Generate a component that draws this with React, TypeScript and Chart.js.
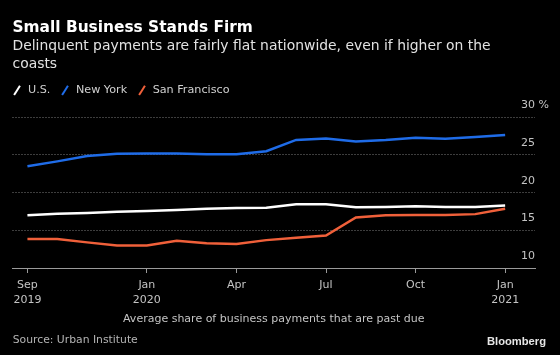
import React, { useEffect, useRef } from "react";
import { Chart, registerables } from "chart.js";

Chart.register(...registerables);

// ---- data ----
const months = [
  "2019-09", "2019-10", "2019-11", "2019-12", "2020-01", "2020-02", "2020-03", "2020-04",
  "2020-05", "2020-06", "2020-07", "2020-08", "2020-09", "2020-10", "2020-11", "2020-12", "2021-01",
];
const usValues = [17.0, 17.2, 17.3, 17.45, 17.55, 17.7, 17.85, 17.95, 18.0, 18.45, 18.45, 18.05, 18.1, 18.2, 18.1, 18.1, 18.3];
const nyValues = [23.5, 24.15, 24.85, 25.15, 25.2, 25.2, 25.1, 25.1, 25.5, 27.0, 27.2, 26.8, 27.0, 27.3, 27.15, 27.4, 27.65];
const sfValues = [13.85, 13.85, 13.4, 13.0, 13.0, 13.6, 13.3, 13.2, 13.7, 14.0, 14.3, 16.7, 17.0, 17.05, 17.05, 17.15, 17.85];

const seriesNames = ["U.S.", "New York", "San Francisco"];
const seriesColors = ["#ffffff", "#1f6ce8", "#f0603a"];

const xTickIndices = [0, 4, 7, 10, 13, 16];
const xTickLabels = [["Sep", "2019"], ["Jan", "2020"], ["Apr"], ["Jul"], ["Oct"], ["Jan", "2021"]];
const yTicks = [10, 15, 20, 25, 30];

const FONT = "'DejaVu Sans', sans-serif";

export default function App() {
  const ref = useRef<HTMLCanvasElement | null>(null);

  useEffect(() => {
    if (!ref.current) return;
    const toPts = (vals: number[]) => vals.map((y, i) => ({ x: i, y }));
    const allValues = [usValues, nyValues, sfValues];
    const chart = new Chart(ref.current, {
      type: "line",
      data: {
        labels: months,
        datasets: allValues.map((vals, k) => ({
          label: seriesNames[k],
          data: toPts(vals),
          borderColor: seriesColors[k],
          backgroundColor: seriesColors[k],
          borderWidth: 2.5,
          pointRadius: 0,
          tension: 0,
        })),
      },
      options: {
        responsive: false,
        animation: false,
        events: [],
        layout: { padding: { left: 12.5, right: 0, top: 117.3, bottom: 29 } },
        plugins: {
          legend: { display: false },
          tooltip: { enabled: false },
          title: { display: false },
        },
        scales: {
          x: {
            type: "linear",
            min: -0.5,
            max: 17,
            afterBuildTicks: (scale: any) => {
              scale.ticks = xTickIndices.map((v) => ({ value: v }));
            },
            afterFit: (scale: any) => {
              scale.height = 58;
            },
            ticks: {
              autoSkip: false,
              maxRotation: 0,
              padding: 5,
              color: "#c4c4c4",
              font: { family: FONT, size: 11, lineHeight: 1.36 },
              callback: (value: any) => {
                const i = xTickIndices.indexOf(Number(value));
                return i >= 0 ? xTickLabels[i] : "";
              },
            },
            grid: {
              display: true,
              drawOnChartArea: false,
              drawTicks: true,
              tickLength: 5,
              color: "#9a9a9a",
              tickColor: "#9a9a9a",
            },
            border: { display: true, color: "#9a9a9a", width: 1 },
            title: {
              display: true,
              text: "Average share of business payments that are past due",
              color: "#c4c4c4",
              font: { family: FONT, size: 11, lineHeight: 1.2 },
              padding: { top: 0, bottom: 0 },
            },
          },
          y: {
            type: "linear",
            position: "right",
            min: 10,
            max: 30,
            afterBuildTicks: (scale: any) => {
              scale.ticks = yTicks.map((v) => ({ value: v }));
            },
            afterFit: (scale: any) => {
              scale.width = 25;
            },
            ticks: {
              mirror: true,
              crossAlign: "far",
              padding: 14,
              labelOffset: -12,
              color: "#c4c4c4",
              font: { family: FONT, size: 11 },
              callback: (value: any) => (Number(value) === 30 ? "30 %" : String(value)),
            },
            grid: {
              drawTicks: false,
              color: (ctx: any) => (ctx.tick && ctx.tick.value === 10 ? "rgba(0,0,0,0)" : "#7a7a7a"),
              lineWidth: 1,
            },
            border: { display: false, dash: [1, 2] },
          },
        },
      },
    });
    return () => chart.destroy();
  }, []);

  const slash = (color: string) => (
    <span style={{ display: "inline-block", width: 10, height: 14, position: "relative", marginRight: 5.5 }}>
      <span
        style={{
          position: "absolute",
          left: 3.8,
          top: 1.5,
          width: 2.4,
          height: 11,
          background: color,
          transform: "rotate(32deg)",
        }}
      />
    </span>
  );

  return (
    <div style={{ position: "absolute", left: 0, top: 0, width: 560, height: 355, background: "#000", overflow: "hidden", fontFamily: FONT }}>
      <canvas ref={ref} width={560} height={355} style={{ position: "absolute", left: 0, top: 0, width: 560, height: 355 }} />
      <div style={{ position: "absolute", left: 12.5, top: 18, fontSize: 15.4, lineHeight: "18px", fontWeight: "bold", color: "#ffffff", whiteSpace: "nowrap" }}>
        Small Business Stands Firm
      </div>
      <div style={{ position: "absolute", left: 12.5, top: 37, width: 505, fontSize: 13.9, lineHeight: "17.6px", color: "#e2e2e2" }}>
        Delinquent payments are fairly flat nationwide, even if higher on the coasts
      </div>
      <div style={{ position: "absolute", left: 12.5, top: 83.4, fontSize: 11.2, lineHeight: "14px", color: "#d0d0d0", whiteSpace: "nowrap", display: "flex", alignItems: "center" }}>
        {seriesNames.map((n, k) => (
          <span key={n} style={{ display: "inline-flex", alignItems: "center", marginRight: 10 }}>
            {slash(seriesColors[k])}
            {n}
          </span>
        ))}
      </div>
      <div style={{ position: "absolute", left: 12.7, top: 332.8, fontSize: 10.8, lineHeight: "13px", color: "#b4b4b4", whiteSpace: "nowrap" }}>
        Source: Urban Institute
      </div>
      <div style={{ position: "absolute", right: 14, top: 334.6, fontSize: 11.2, lineHeight: "13px", fontWeight: "bold", color: "#e6e6e6", fontFamily: "'Liberation Sans', Arial, sans-serif", whiteSpace: "nowrap" }}>
        Bloomberg
      </div>
    </div>
  );
}
